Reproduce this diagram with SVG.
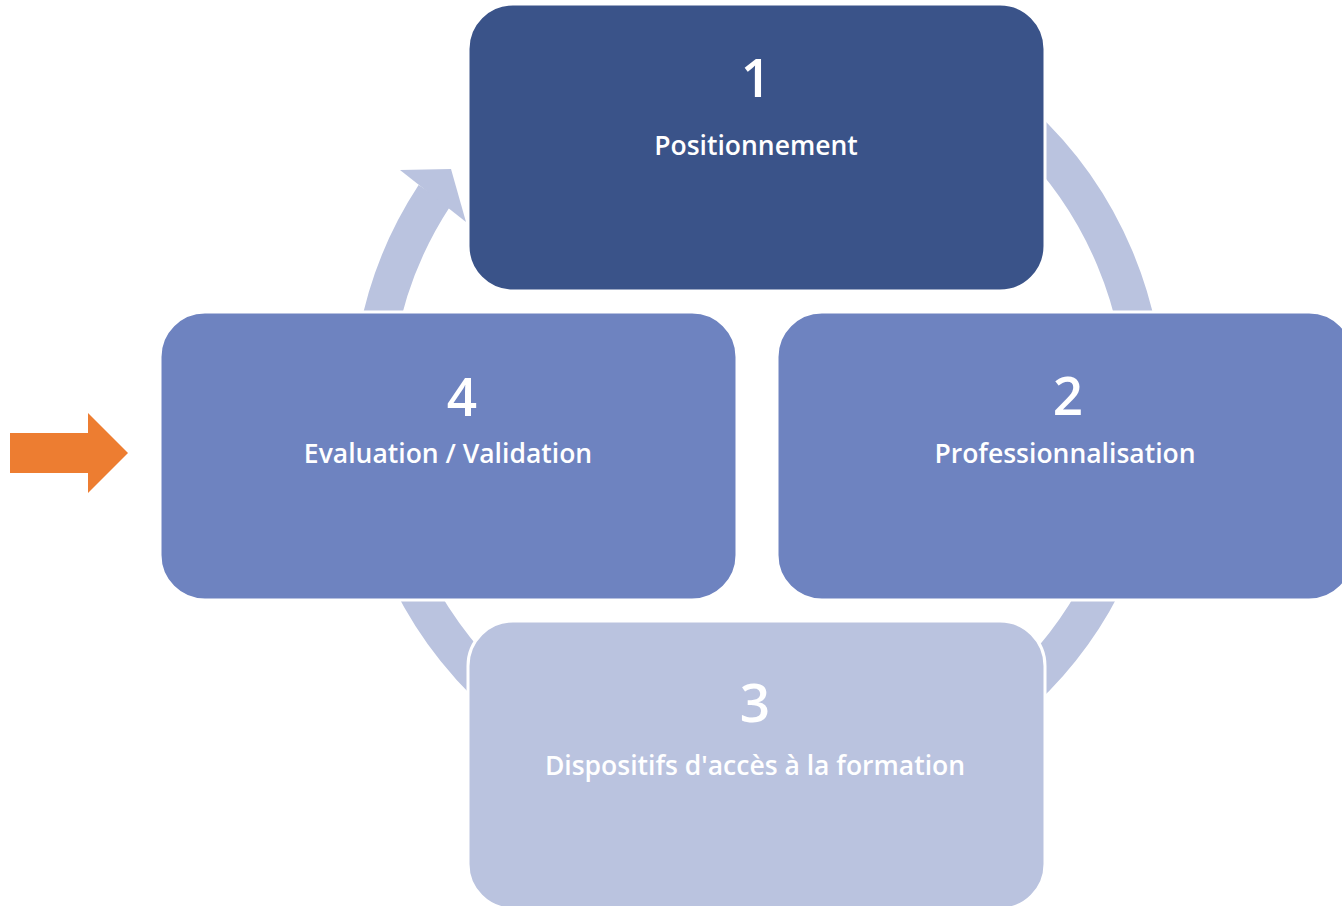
<svg xmlns="http://www.w3.org/2000/svg" width="1342" height="906" viewBox="0 0 1342 906">
  <style>
    .box { stroke: #ffffff; stroke-width: 3; }
    .num { font-family: "Open Sans", "Noto Sans", sans-serif; font-size: 53px; font-weight: 600; fill: #ffffff; text-anchor: middle; }
    .lbl { font-family: "Open Sans", "Noto Sans", sans-serif; font-size: 26.5px; font-weight: 600; fill: #ffffff; text-anchor: middle; }
  </style>
  <rect x="0" y="0" width="1342" height="906" fill="#ffffff"/>
  <g id="connectors">
    <path d="M434.5,195.5 A387,387 0 1 0 890.4,44.3" fill="none" stroke="#BAC3DF" stroke-width="38"/>
    <polygon points="400,170 451,169 466,222" fill="#BAC3DF"/>
  </g>
  <g id="node1">
    <rect class="box" x="468" y="4" width="577" height="287" rx="45" ry="45" fill="#3A5389"/>
    <text class="num" x="756" y="97">1</text>
    <text class="lbl" x="756" y="155">Positionnement</text>
  </g>
  <g id="node4">
    <rect class="box" x="160" y="312" width="577" height="288" rx="45" ry="45" fill="#6E83C0"/>
    <text class="num" x="462" y="416">4</text>
    <text class="lbl" x="448" y="463">Evaluation / Validation</text>
  </g>
  <g id="node2">
    <rect class="box" x="777" y="312" width="577" height="288" rx="45" ry="45" fill="#6E83C0"/>
    <text class="num" x="1068" y="415">2</text>
    <text class="lbl" x="1065" y="463">Professionnalisation</text>
  </g>
  <g id="node3">
    <rect class="box" x="468" y="621" width="577" height="288" rx="45" ry="45" fill="#BAC3DF"/>
    <text class="num" x="755" y="722">3</text>
    <text class="lbl" x="755" y="775">Dispositifs d'accès à la formation</text>
  </g>
  <g id="orange-arrow">
    <polygon points="10,433 88,433 88,413 128,453 88,493 88,473 10,473" fill="#ED7D31"/>
  </g>
</svg>
